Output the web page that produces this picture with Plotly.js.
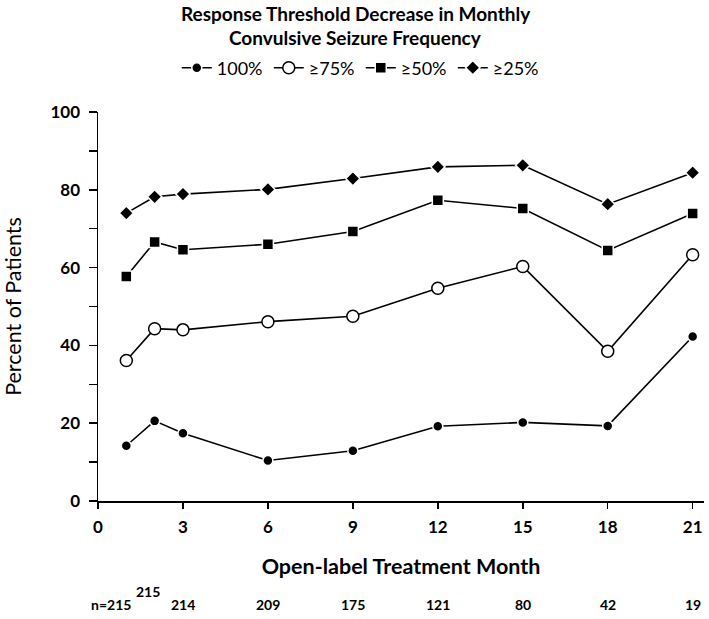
<!DOCTYPE html>
<html>
<head>
<meta charset="utf-8">
<script src="https://cdn.plot.ly/plotly-3.0.1.min.js"></script>
<style>
  html, body { margin: 0; padding: 0; background: #fff; }
  #seizureChart { width: 709px; height: 619px; }
</style>
</head>
<body>
<div id="seizureChart"></div>
<script>
// months of open-label treatment
const months = [1, 2, 3, 6, 9, 12, 15, 18, 21];

// percent of patients reaching each response threshold
const resp100 = [14.2, 20.6, 17.4, 10.4, 12.9, 19.2, 20.2, 19.3, 42.3];
const resp75 = [36.1, 44.3, 44.0, 46.1, 47.5, 54.7, 60.3, 38.5, 63.3];
const resp50 = [57.7, 66.6, 64.6, 66.0, 69.3, 77.3, 75.2, 64.4, 73.9];
const resp25 = [74.0, 78.2, 78.9, 80.1, 82.9, 85.9, 86.3, 76.3, 84.4];

// patient counts shown under the axis
const nMonths = [1, 2, 3, 6, 9, 12, 15, 18, 21];
const nCounts = [215, 215, 214, 209, 175, 121, 80, 42, 19];

const FONT = 'Lato, "Open Sans", sans-serif';

function makeTrace(y, name, symbol, size, fill, edge) {
    return {
        x: months,
        y: y,
        name: name,
        type: 'scatter',
        mode: 'lines+markers',
        line: { color: '#000', width: 1.6 },
        marker: {
            symbol: symbol,
            size: size,
            color: fill,
            line: { color: edge, width: 1.5 }
        }
    };
}

const traces = [
    makeTrace(resp100, '100%', 'circle', 10, '#000', '#fff'),
    makeTrace(resp75, '≥75%', 'circle', 12, '#fff', '#000'),
    makeTrace(resp50, '≥50%', 'square', 11, '#000', '#fff'),
    makeTrace(resp25, '≥25%', 'diamond', 11, '#000', '#fff')
];

// pixel helpers for annotations outside the plot
const plotTop = 112, plotBottom = 501;
const py = p => (plotBottom - p) / (plotBottom - plotTop);

const annotations = [
    {
        text: '<b>Response Threshold Decrease in Monthly</b>',
        xref: 'paper', yref: 'paper', x: 0.425, y: py(13),
        xanchor: 'center', yanchor: 'middle', showarrow: false,
        font: { family: FONT, size: 19, color: '#000' }
    },
    {
        text: '<b>Convulsive Seizure Frequency</b>',
        xref: 'paper', yref: 'paper', x: 0.425, y: py(37),
        xanchor: 'center', yanchor: 'middle', showarrow: false,
        font: { family: FONT, size: 19, color: '#000' }
    }
];

nMonths.forEach((m, i) => {
    const first = i === 0;
    const second = i === 1;
    annotations.push({
        text: '<b>' + (first ? 'n=' : '') + nCounts[i] + '</b>',
        xref: 'x', yref: 'paper', x: m,
        y: second ? py(591) : py(604),
        xanchor: first ? 'right' : 'center',
        xshift: first ? 7 : (second ? -7 : 0),
        yanchor: 'middle', showarrow: false,
        font: { family: FONT, size: 14, color: '#000' }
    });
});

const layout = {
    width: 709,
    height: 619,
    margin: { l: 98, r: 5, t: plotTop, b: 619 - plotBottom, autoexpand: false },
    paper_bgcolor: '#fff',
    plot_bgcolor: '#fff',
    font: { family: FONT, color: '#000' },
    showlegend: true,
    legend: {
        orientation: 'h',
        x: 0.13, y: py(68),
        xanchor: 'left', yanchor: 'middle',
        font: { family: FONT, size: 18, color: '#000' },
        entrywidth: 47,
        entrywidthmode: 'pixels',
        traceorder: 'normal'
    },
    xaxis: {
        range: [0, 21.4],
        tickvals: [0, 3, 6, 9, 12, 15, 18, 21],
        ticks: 'outside', ticklen: 6, tickwidth: 1.5, tickcolor: '#000',
        ticklabelstandoff: 4,
        showline: true, linecolor: '#000', linewidth: 1.5,
        showgrid: false, zeroline: false, automargin: false,
        tickfont: { family: FONT, size: 17, color: '#000', weight: 'bold' },
        title: {
            text: '<b>Open-label Treatment Month</b>',
            font: { family: FONT, size: 21.5, color: '#000' },
            standoff: 23
        }
    },
    yaxis: {
        range: [0, 100],
        dtick: 20,
        ticks: 'outside', ticklen: 8, tickwidth: 1.5, tickcolor: '#000',
        ticklabelstandoff: 5,
        minor: { dtick: 10, ticks: 'outside', ticklen: 8, tickwidth: 1.5, tickcolor: '#000' },
        showline: true, linecolor: '#000', linewidth: 1.5,
        showgrid: false, zeroline: false, automargin: false,
        tickfont: { family: FONT, size: 17, color: '#000', weight: 'bold' },
        title: {
            text: 'Percent of Patients',
            font: { family: FONT, size: 21.5, color: '#000' },
            standoff: 26
        }
    },
    annotations: annotations
};

Plotly.newPlot('seizureChart', traces, layout, { displayModeBar: false, staticPlot: true });
</script>
</body>
</html>
